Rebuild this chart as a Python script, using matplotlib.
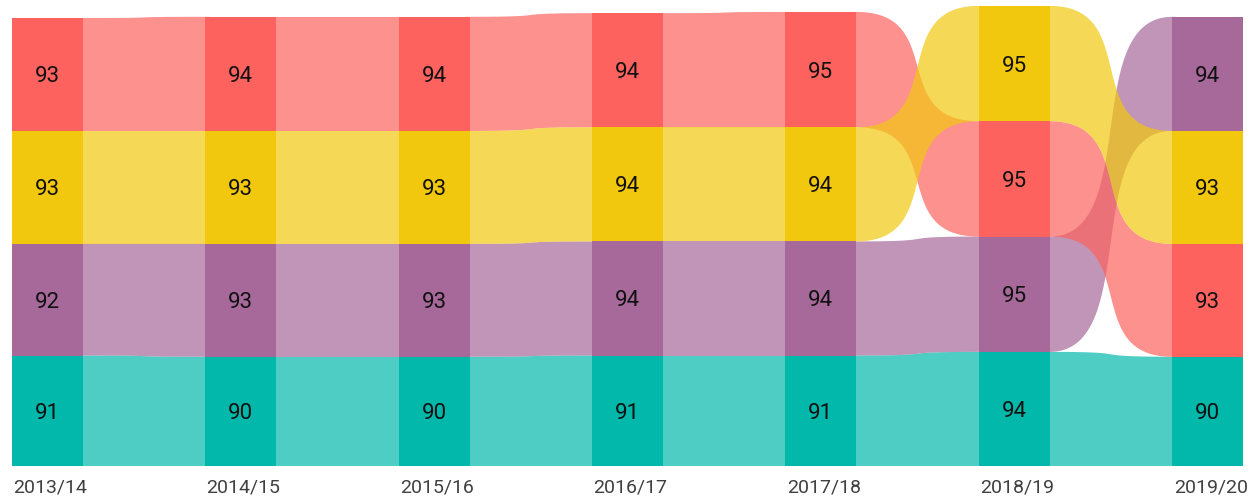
import numpy as np
import matplotlib.pyplot as plt

# data
years = ['2013/14', '2014/15', '2015/16', '2016/17', '2017/18', '2018/19', '2019/20']
red = [93, 94, 94, 94, 95, 95, 93]
yellow = [93, 93, 93, 94, 94, 95, 93]
purple = [92, 93, 93, 94, 94, 95, 94]
teal = [91, 90, 90, 91, 91, 94, 90]

series = {'red': red, 'yellow': yellow, 'purple': purple, 'teal': teal}
colors = {'red': '#FD625E', 'yellow': '#F2C80F', 'purple': '#A66999', 'teal': '#01B8AA'}

# stacking order per year, top to bottom (ribbon rank)
order = [
    ['red', 'yellow', 'purple', 'teal'],
    ['red', 'yellow', 'purple', 'teal'],
    ['red', 'yellow', 'purple', 'teal'],
    ['red', 'yellow', 'purple', 'teal'],
    ['red', 'yellow', 'purple', 'teal'],
    ['yellow', 'red', 'purple', 'teal'],
    ['purple', 'yellow', 'red', 'teal'],
]

bar_w = 0.367

# bottom/top of each segment
spans = []
for i, col in enumerate(order):
    d = {}
    base = 0
    for name in reversed(col):
        v = series[name][i]
        d[name] = (base, base + v)
        base += v
    spans.append(d)

fig = plt.figure(figsize=(12.56, 5.0), dpi=100)
ax = fig.add_axes([12 / 1256, 34 / 500, 1231 / 1256, 466 / 500])


def curve(x0, y0, x1, y1, k=0.75, n=100):
    # cubic bezier with flat ends, steep middle
    t = np.linspace(0, 1, n)
    dx = x1 - x0
    x = x0 + dx * (3 * k * (1 - t) ** 2 * t + 3 * (1 - k) * (1 - t) * t ** 2 + t ** 3)
    y = y0 + (y1 - y0) * (3 * t ** 2 - 2 * t ** 3)
    # run a little into the bars to hide seams
    x = np.concatenate([[x0 - 0.02], x, [x1 + 0.02]])
    y = np.concatenate([[y0], y, [y1]])
    return x, y


# ribbons between the bars
for i in range(len(years) - 1):
    xa = i + bar_w / 2
    xb = i + 1 - bar_w / 2
    for name in ['teal', 'purple', 'red', 'yellow']:
        b0, t0 = spans[i][name]
        b1, t1 = spans[i + 1][name]
        xt, yt = curve(xa, t0, xb, t1)
        xbo, ybo = curve(xa, b0, xb, b1)
        px = np.concatenate([xt, xbo[::-1]])
        py = np.concatenate([yt, ybo[::-1]])
        ax.fill(px, py, color=colors[name], alpha=0.7, lw=0, zorder=1)

# bars and labels
for i in range(len(years)):
    for name, (b, t) in spans[i].items():
        ax.bar(i, t - b, bottom=b, width=bar_w, color=colors[name], lw=0, zorder=3)
        ax.text(i, (b + t) / 2, str(series[name][i]), ha='center', va='center_baseline',
                fontsize=16, color='#111111', family='Roboto', zorder=4)

ax.set_xlim(-bar_w / 2, len(years) - 1 + bar_w / 2)
ax.set_ylim(0, 466 / 1.214)
ax.set_xticks([])
ax.set_yticks([])
for s in ax.spines.values():
    s.set_visible(False)

for i, y in enumerate(years):
    fig.text((12 + i * 193.5 + 1) / 1256, 12 / 500, y, ha='left', va='center',
             fontsize=14, color='#404040', family='Roboto')

fig.savefig('out.png', dpi=100)
